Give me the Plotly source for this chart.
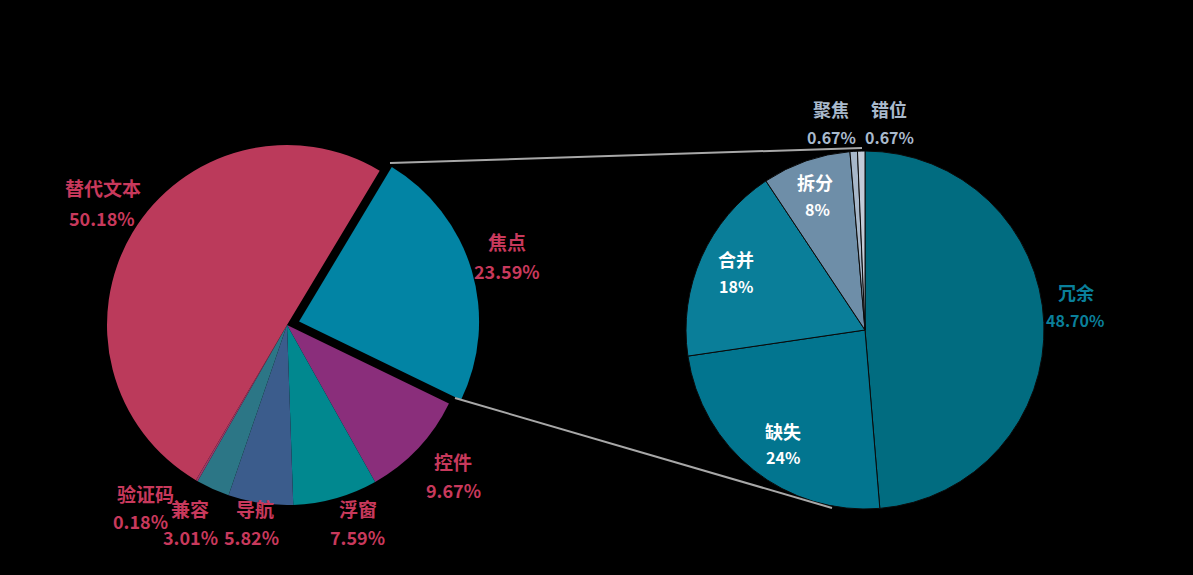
import plotly.graph_objects as go

# Left pie data (clockwise order starting at the exploded slice)
left_labels = ["焦点", "控件", "浮窗", "导航", "兼容", "验证码", "替代文本"]
left_values = [23.59, 9.67, 7.59, 5.82, 3.01, 0.18, 50.18]
left_colors = ["#0284a4", "#8a2e7b", "#01888f", "#3b5c8c", "#2c7686", "#9a3a6a", "#bb3a5b"]
left_pull = [0.07, 0, 0, 0, 0, 0, 0]

# Right pie data (breakdown of 焦点)
right_labels = ["冗余", "缺失", "合并", "拆分", "聚焦", "错位"]
right_values = [48.70, 24, 18, 8, 0.67, 0.67]
right_text = ["48.70%", "24%", "18%", "8%", "0.67%", "0.67%"]
right_colors = ["#016c80", "#02758f", "#0a7e99", "#6e8ea8", "#a7b7c9", "#c3ccd8"]

W, H = 1193, 575
FONT = "Noto Sans CJK SC"

# pie boxes (pixel centre, radius, pull)
lcx, lcy, lr = 287, 325, 180
rcx, rcy, rr = 865, 330, 179
lbox = lr * (1 + max(left_pull))

fig = go.Figure()
fig.add_trace(go.Pie(
    labels=left_labels, values=left_values, sort=False, direction="clockwise",
    rotation=31, pull=left_pull, textinfo="none", hoverinfo="label+percent",
    marker=dict(colors=left_colors, line=dict(width=0)),
    domain=dict(x=[(lcx - lbox) / W, (lcx + lbox) / W], y=[1 - (lcy + lbox) / H, 1 - (lcy - lbox) / H]),
    showlegend=False,
))
fig.add_trace(go.Pie(
    labels=right_labels, values=right_values, sort=False, direction="clockwise",
    rotation=0, textinfo="none", hoverinfo="label+percent",
    marker=dict(colors=right_colors, line=dict(width=1, color="#0a0a0a")),
    domain=dict(x=[(rcx - rr) / W, (rcx + rr) / W], y=[1 - (rcy + rr) / H, 1 - (rcy - rr) / H]),
    showlegend=False,
))

def px(x):
    return x / W

def py(y):
    return 1 - y / H

# label positions (pixel centres for name and value lines)
left_pos = {
    "焦点": (507, 241, 507, 271),
    "控件": (453, 461, 453, 490),
    "浮窗": (358, 508, 357, 537),
    "导航": (255, 508, 251, 537),
    "兼容": (190, 508, 190, 537),
    "验证码": (145, 494, 140, 521),
    "替代文本": (103, 188, 102, 218),
}
right_pos = {
    "冗余": (1076, 292, 1075, 320),
    "缺失": (783, 431, 783, 457),
    "合并": (736, 259, 736, 286),
    "拆分": (815, 182, 817, 209),
    "聚焦": (831, 109, 831, 137),
    "错位": (889, 109, 889, 137),
}
right_font_colors = ["#0a7f9a", "#ffffff", "#ffffff", "#ffffff", "#a9b9cc", "#a9b9cc"]

annotations = []
for lab, val in zip(left_labels, left_values):
    x1, y1, x2, y2 = left_pos[lab]
    for txt, x, y, s in ((lab, x1, y1, 19), (f"{val:.2f}%", x2, y2, 18)):
        annotations.append(dict(x=px(x), y=py(y), xref="paper", yref="paper", showarrow=False,
                                text=f"<b>{txt}</b>", font=dict(family=FONT, size=s, color="#c8395c"),
                                xanchor="center", yanchor="middle"))
for lab, t, c in zip(right_labels, right_text, right_font_colors):
    x1, y1, x2, y2 = right_pos[lab]
    for txt, x, y, s in ((lab, x1, y1, 18), (t, x2, y2, 16)):
        annotations.append(dict(x=px(x), y=py(y), xref="paper", yref="paper", showarrow=False,
                                text=f"<b>{txt}</b>", font=dict(family=FONT, size=s, color=c),
                                xanchor="center", yanchor="middle"))

shapes = [
    dict(type="line", xref="paper", yref="paper", x0=px(390), y0=py(163), x1=px(862), y1=py(148),
         line=dict(color="#a8a8a8", width=2)),
    dict(type="line", xref="paper", yref="paper", x0=px(455), y0=py(398), x1=px(832), y1=py(508),
         line=dict(color="#a8a8a8", width=2)),
]

fig.update_layout(
    width=W, height=H, margin=dict(l=0, r=0, t=0, b=0),
    paper_bgcolor="#000000", plot_bgcolor="#000000",
    annotations=annotations, shapes=shapes,
)
fig.write_html("out.html")
